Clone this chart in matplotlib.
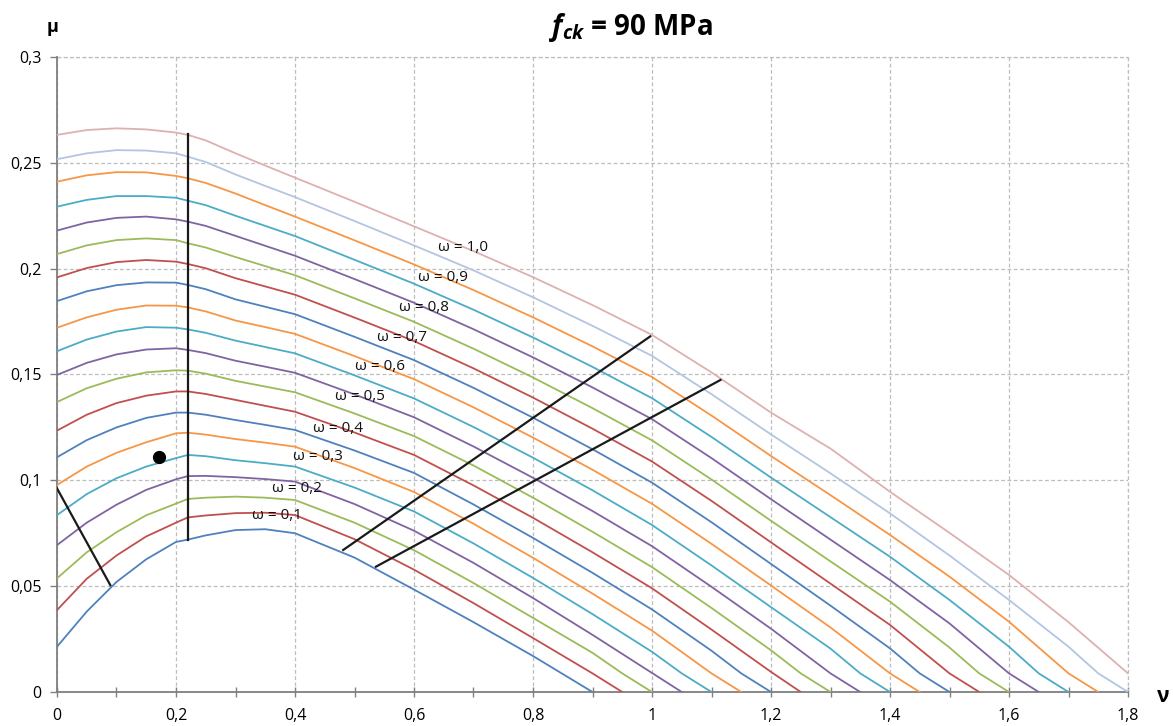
import numpy as np
import matplotlib
matplotlib.use("Agg")
import matplotlib.pyplot as plt

plt.rcParams['font.family'] = ['Open Sans', 'DejaVu Sans']
plt.rcParams['mathtext.fontset'] = 'custom'
plt.rcParams['mathtext.it'] = 'Open Sans:italic:bold'
plt.rcParams['mathtext.rm'] = 'Open Sans:bold'

# omega = 0,05 ... 1,0
omega = [round(0.05 * k, 2) for k in range(1, 21)]

# common nu grid, each curve uses the first len(row) points
nu_grid = [0, 0.05, 0.1, 0.15, 0.2, 0.22, 0.25, 0.3, 0.35, 0.4, 0.5, 0.6, 0.7, 0.8,
           0.9, 1.0, 1.1, 1.2, 1.3, 1.4, 1.5, 1.6, 1.7, 1.8]

mu_grid = [
    [0.0214, 0.038, 0.052, 0.0627, 0.0709, 0.072, 0.074, 0.0765, 0.0769, 0.075,
     0.0635, 0.0484, 0.033, 0.017],
    [0.0387, 0.0535, 0.0645, 0.0735, 0.080, 0.0825, 0.0834, 0.0845, 0.0847, 0.0836,
     0.0722, 0.0578, 0.042, 0.0255, 0.0088],
    [0.0537, 0.066, 0.0755, 0.0835, 0.089, 0.0912, 0.0918, 0.0923, 0.0918, 0.0907,
     0.080, 0.067, 0.0515, 0.035, 0.0185],
    [0.0694, 0.080, 0.0885, 0.0955, 0.1005, 0.102, 0.1021, 0.1015, 0.1006, 0.0994,
     0.0888, 0.0762, 0.061, 0.0444, 0.027, 0.009],
    [0.0836, 0.0935, 0.101, 0.1065, 0.1105, 0.112, 0.1114, 0.1095, 0.1081, 0.1065,
     0.0966, 0.0853, 0.0702, 0.0539, 0.0368, 0.019],
    [0.0978, 0.1065, 0.113, 0.118, 0.1222, 0.1225, 0.1216, 0.1195, 0.1178, 0.1159,
     0.1058, 0.0945, 0.0795, 0.0634, 0.0465, 0.029, 0.0088],
    [0.1109, 0.119, 0.125, 0.1295, 0.132, 0.132, 0.131, 0.1285, 0.1262, 0.1238,
     0.1141, 0.1035, 0.0886, 0.0728, 0.0563, 0.039, 0.0195],
    [0.1235, 0.131, 0.1365, 0.140, 0.142, 0.142, 0.1408, 0.138, 0.1352, 0.1324,
     0.1226, 0.112, 0.0976, 0.0823, 0.066, 0.049, 0.0295, 0.0095],
    [0.137, 0.1435, 0.148, 0.151, 0.152, 0.1518, 0.1504, 0.147, 0.1443, 0.1416,
     0.1316, 0.1209, 0.107, 0.0918, 0.0757, 0.059, 0.0397, 0.0197],
    [0.1498, 0.1555, 0.1595, 0.1618, 0.1624, 0.1616, 0.1601, 0.1565, 0.1537, 0.1508,
     0.1406, 0.1298, 0.116, 0.1012, 0.0855, 0.0689, 0.0497, 0.0299, 0.0088],
    [0.161, 0.1665, 0.1703, 0.1724, 0.1721, 0.1713, 0.1697, 0.166, 0.163, 0.160,
     0.1496, 0.1387, 0.1252, 0.1107, 0.0953, 0.0789, 0.0598, 0.0401, 0.0205],
    [0.1721, 0.177, 0.1806, 0.1826, 0.1825, 0.1817, 0.1798, 0.1755, 0.1724, 0.1692,
     0.1587, 0.1478, 0.1345, 0.1202, 0.105, 0.0889, 0.07, 0.0503, 0.0305, 0.0088],
    [0.1847, 0.1893, 0.1922, 0.1935, 0.1934, 0.1923, 0.1903, 0.1855, 0.182, 0.1785,
     0.1678, 0.1568, 0.1437, 0.1296, 0.1147, 0.0989, 0.0802, 0.0605, 0.0408, 0.0206],
    [0.1959, 0.2003, 0.2031, 0.2041, 0.2033, 0.2022, 0.2002, 0.1955, 0.1916, 0.1877,
     0.1769, 0.1658, 0.1529, 0.1391, 0.1244, 0.1089, 0.0903, 0.0707, 0.0512, 0.0317,
     0.0088],
    [0.2069, 0.211, 0.2135, 0.2143, 0.2135, 0.212, 0.21, 0.2055, 0.2012, 0.1969,
     0.186, 0.1749, 0.1622, 0.1486, 0.1341, 0.1189, 0.1004, 0.0809, 0.0617, 0.0427,
     0.021],
    [0.218, 0.2218, 0.224, 0.2246, 0.2233, 0.2222, 0.2202, 0.2155, 0.2108, 0.2061,
     0.1951, 0.1839, 0.1714, 0.1581, 0.1439, 0.1289, 0.1105, 0.0911, 0.072, 0.0529,
     0.0324, 0.0088],
    [0.2293, 0.2325, 0.2343, 0.2343, 0.2335, 0.2321, 0.23, 0.225, 0.2202, 0.2154,
     0.2042, 0.1929, 0.1806, 0.1675, 0.1536, 0.1388, 0.1205, 0.1013, 0.0826, 0.0639,
     0.0435, 0.0214],
    [0.2411, 0.2441, 0.2456, 0.2455, 0.2438, 0.2427, 0.2405, 0.2355, 0.23, 0.2246,
     0.2134, 0.202, 0.1899, 0.177, 0.1633, 0.1488, 0.1306, 0.1115, 0.093, 0.0742,
     0.0545, 0.0332, 0.0088],
    [0.2517, 0.2545, 0.256, 0.2558, 0.2545, 0.2529, 0.2504, 0.2445, 0.2391, 0.2338,
     0.2225, 0.211, 0.1992, 0.1865, 0.173, 0.1588, 0.1407, 0.1217, 0.1033, 0.0844,
     0.0645, 0.0435, 0.0214],
    [0.2632, 0.2655, 0.2663, 0.2658, 0.2643, 0.2632, 0.2606, 0.2545, 0.2487, 0.243,
     0.2316, 0.22, 0.2083, 0.196, 0.1828, 0.1687, 0.151, 0.132, 0.115, 0.0946,
     0.0752, 0.0553, 0.033, 0.0088],
]

# last points of each curve (down to mu = 0)
nu_tail = [
    [0.85, 0.9], [0.95], [0.95, 1.0], [1.05],
    [1.05, 1.1], [1.15], [1.15, 1.2], [1.25],
    [1.25, 1.3], [1.35], [1.35, 1.4], [1.45],
    [1.45, 1.5], [1.55], [1.55, 1.6], [1.65],
    [1.65, 1.7], [1.75], [1.75, 1.8], [],
]
mu_tail = [
    [0.0085, 0], [0], [0.0088, 0], [0],
    [0.0088, 0], [0], [0.0088, 0], [0],
    [0.0088, 0], [0], [0.0088, 0], [0],
    [0.0088, 0], [0], [0.0088, 0], [0],
    [0.0088, 0], [0], [0.0088, 0], [],
]

colors = ['#4F81BD', '#C0504D', '#9BBB59', '#8064A2', '#4BACC6', '#F79646'] * 3 + ['#B3C5E3', '#DDB1B0']

# labels
label_text = ['ω = 0,1', 'ω = 0,2', 'ω = 0,3', 'ω = 0,4', 'ω = 0,5',
              'ω = 0,6', 'ω = 0,7', 'ω = 0,8', 'ω = 0,9', 'ω = 1,0']
label_nu = [0.369, 0.403, 0.439, 0.473, 0.509, 0.543, 0.579, 0.616, 0.649, 0.683]
label_mu = [0.0832, 0.0962, 0.1112, 0.1246, 0.1395, 0.1537, 0.1676, 0.1817, 0.1957, 0.2099]

# black construction lines
line_nu = [[0.2207, 0.2207], [0.0, 0.0896], [0.481, 0.997], [0.536, 1.115]]
line_mu = [[0.072, 0.2634], [0.0962, 0.0505], [0.0671, 0.168], [0.0592, 0.1474]]
point_nu, point_mu = 0.172, 0.1109

xticks = [0, 0.2, 0.4, 0.6, 0.8, 1.0, 1.2, 1.4, 1.6, 1.8]
xlabels = ['0', '0,2', '0,4', '0,6', '0,8', '1', '1,2', '1,4', '1,6', '1,8']
yticks = [0, 0.05, 0.1, 0.15, 0.2, 0.25, 0.3]
ylabels = ['0', '0,05', '0,1', '0,15', '0,2', '0,25', '0,3']

fig = plt.figure(figsize=(11.73, 7.26), dpi=100)
ax = fig.add_axes([57 / 1173, 34 / 726, 1071 / 1173, 635 / 726])

for k in range(len(omega)):
    row = mu_grid[k]
    nu = list(nu_grid[:len(row)]) + nu_tail[k]
    mu = list(row) + mu_tail[k]
    ax.plot(nu, mu, color=colors[k], lw=1.3, solid_joinstyle='round', zorder=3)

for xs, ys in zip(line_nu, line_mu):
    ax.plot(xs, ys, color='#1a1a1a', lw=1.6, zorder=4)
ax.plot([point_nu], [point_mu], 'o', color='black', ms=8.5, zorder=5)

for t, x, y in zip(label_text, label_nu, label_mu):
    ax.text(x, y, t, fontsize=11, ha='center', va='center', color='#111111', zorder=6)

ax.set_xlim(0, 1.8)
ax.set_ylim(0, 0.3)
ax.set_xticks(xticks)
ax.set_xticklabels(xlabels)
ax.set_xticks(np.arange(0.1, 1.8, 0.2), minor=True)
ax.set_yticks(yticks)
ax.set_yticklabels(ylabels)
ax.tick_params(axis='x', which='both', direction='inout', length=7, width=1, color='#808080',
               labelsize=11.5, pad=8)
ax.tick_params(axis='y', direction='out', length=5, width=1, color='#808080', labelsize=11.5, pad=6)

ax.grid(True, which='major', linestyle=(0, (3, 2)), color='#bdbdbd', lw=0.9)
for s in ['top', 'right']:
    ax.spines[s].set_visible(False)
for s in ['left', 'bottom']:
    ax.spines[s].set_color('#7f7f7f')
    ax.spines[s].set_linewidth(1.3)
ax.set_axisbelow(True)

# top & right frame drawn as dashed grid
ax.axhline(0.3, linestyle=(0, (3, 2)), color='#bdbdbd', lw=0.9, clip_on=False)
ax.axvline(1.8, linestyle=(0, (3, 2)), color='#bdbdbd', lw=0.9, clip_on=False)

fig.text(53 / 1173, 1 - 27 / 726, 'μ', fontsize=13, fontweight='bold', ha='center', va='center')
fig.text(1163 / 1173, 1 - 697 / 726, 'ν', fontsize=15, fontweight='bold', ha='center', va='center')
fig.text(631 / 1173, 1 - 27 / 726, r'$f_{ck}$' + ' = 90 MPa', fontsize=20, fontweight='bold',
         ha='center', va='center')

fig.savefig('out.png', dpi=100)
